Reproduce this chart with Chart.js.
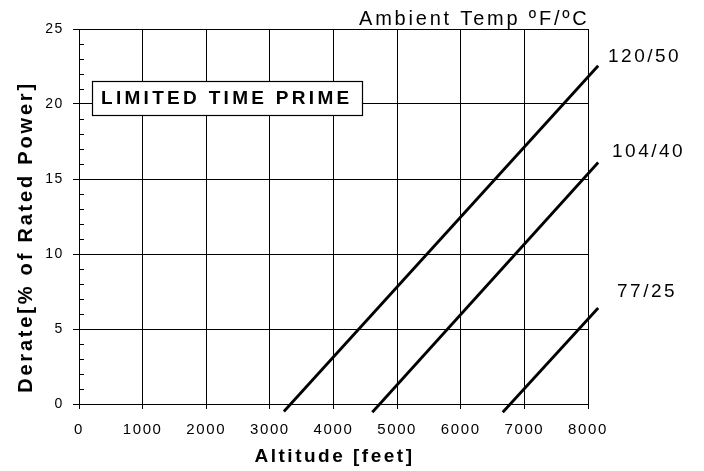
<!DOCTYPE html>
<html>
<head>
<meta charset="utf-8">
<title>Limited Time Prime Derate</title>
<script src="https://cdn.jsdelivr.net/npm/chart.js@4.4.1/dist/chart.umd.min.js"></script>
<style>
    html, body { margin: 0; padding: 0; background: #fff; }
    #wrap { width: 704px; height: 471px; position: relative; }
</style>
</head>
<body>
<div id="wrap"><canvas id="derateChart"></canvas></div>
<script>
// Chart values
const ambientLabels = ['120/50', '104/40', '77/25'];
const altitudeStart = [3220, 4610, 6660];
const altitudeEnd = [8160, 8160, 8160];
const derateStart = [-0.5, -0.55, -0.55];
const derateEnd = [22.55, 16.1, 6.4];
const altitudeTicks = [0, 1000, 2000, 3000, 4000, 5000, 6000, 7000, 8000];
const derateTicks = [0, 5, 10, 15, 20, 25];
const derateMinorTicks = [1, 2, 3, 4, 6, 7, 8, 9, 11, 12, 13, 14, 16, 17, 18, 19, 21, 22, 23, 24];

const FONT = "Arial, 'Liberation Sans', sans-serif";

// Text on top of the chart: titles, line labels, box
const overlayPlugin = {
    id: 'overlay',
    beforeDraw(chart) {
        chart.ctx.letterSpacing = '1.6px';
    },
    afterDraw(chart) {
        const { ctx, chartArea, scales } = chart;
        const y = scales.y;
        ctx.save();

        // minor ticks inside the y axis
        ctx.strokeStyle = '#000';
        ctx.lineWidth = 1;
        ctx.beginPath();
        derateMinorTicks.forEach(v => {
            const py = Math.round(y.getPixelForValue(v)) + 0.5;
            ctx.moveTo(chartArea.left, py);
            ctx.lineTo(chartArea.left + 5, py);
        });
        ctx.stroke();

        ctx.fillStyle = '#000';
        ctx.textBaseline = 'alphabetic';

        // x title
        ctx.font = `bold 19px ${FONT}`;
        ctx.letterSpacing = '2.5px';
        ctx.textAlign = 'center';
        ctx.fillText('Altitude [feet]', (chartArea.left + chartArea.right) / 2 + 1, 462);

        // y title
        ctx.save();
        ctx.translate(32, 238);
        ctx.rotate(-Math.PI / 2);
        ctx.font = `bold 20px ${FONT}`;
        ctx.letterSpacing = '2.8px';
        ctx.fillText('Derate[% of Rated Power]', 1, 0);
        ctx.restore();

        // legend heading
        ctx.font = `20px ${FONT}`;
        ctx.letterSpacing = '2.8px';
        ctx.textAlign = 'left';
        ctx.fillText('Ambient Temp ºF/ºC', 359, 25);

        // labels at the line ends
        const labelPos = [[608, 62], [612, 157], [617, 297]];
        ctx.font = `19px ${FONT}`;
        ctx.letterSpacing = '2.5px';
        ambientLabels.forEach((label, i) => {
            ctx.fillText(label, labelPos[i][0], labelPos[i][1]);
        });

        // boxed rating
        ctx.fillStyle = '#fff';
        ctx.fillRect(92.5, 81.5, 270, 34);
        ctx.strokeStyle = '#000';
        ctx.lineWidth = 1.2;
        ctx.strokeRect(92.5, 81.5, 270, 34);
        ctx.fillStyle = '#000';
        ctx.font = `bold 19px ${FONT}`;
        ctx.letterSpacing = '3.3px';
        ctx.fillText('LIMITED TIME PRIME', 101, 104);

        ctx.restore();
        ctx.letterSpacing = '0px';
    }
};

class DerateChart {
    constructor(canvasId) {
        this.canvas = document.getElementById(canvasId);
        this.chart = null;
    }

    // Build one dataset per ambient temperature
    buildDatasets() {
        return ambientLabels.map((label, i) => ({
            label: label,
            data: [
                { x: altitudeStart[i], y: derateStart[i] },
                { x: altitudeEnd[i], y: derateEnd[i] }
            ],
            borderColor: '#000',
            borderWidth: 2.8,
            pointRadius: 0,
            tension: 0,
            clip: false
        }));
    }

    init() {
        this.chart = new Chart(this.canvas, {
            type: 'line',
            data: { datasets: this.buildDatasets() },
            options: {
                responsive: true,
                maintainAspectRatio: false,
                animation: false,
                layout: { padding: { top: 29, right: 116, left: 0, bottom: 0 } },
                plugins: {
                    legend: { display: false },
                    tooltip: { enabled: false }
                },
                scales: {
                    x: {
                        type: 'linear',
                        min: altitudeTicks[0],
                        max: altitudeTicks[altitudeTicks.length - 1],
                        afterBuildTicks: scale => { scale.ticks = altitudeTicks.map(v => ({ value: v })); },
                        afterFit: scale => { scale.height = 67; },
                        grid: { color: '#000', lineWidth: 1, tickLength: 5, tickColor: '#000' },
                        border: { color: '#000', width: 1 },
                        ticks: {
                            color: '#000',
                            padding: 12,
                            maxRotation: 0,
                            autoSkip: false,
                            font: { family: FONT, size: 15 },
                            callback: value => String(value)
                        }
                    },
                    y: {
                        type: 'linear',
                        min: derateTicks[0],
                        max: derateTicks[derateTicks.length - 1],
                        afterBuildTicks: scale => { scale.ticks = derateTicks.map(v => ({ value: v })); },
                        afterFit: scale => { scale.width = 79; },
                        grid: { color: '#000', lineWidth: 1, tickLength: 6, tickColor: '#000' },
                        border: { color: '#000', width: 1 },
                        ticks: {
                            color: '#000',
                            padding: 9,
                            autoSkip: false,
                            font: { family: FONT, size: 14 },
                            callback: value => String(value)
                        }
                    }
                }
            },
            plugins: [overlayPlugin]
        });
    }
}

new DerateChart('derateChart').init();
</script>
</body>
</html>
